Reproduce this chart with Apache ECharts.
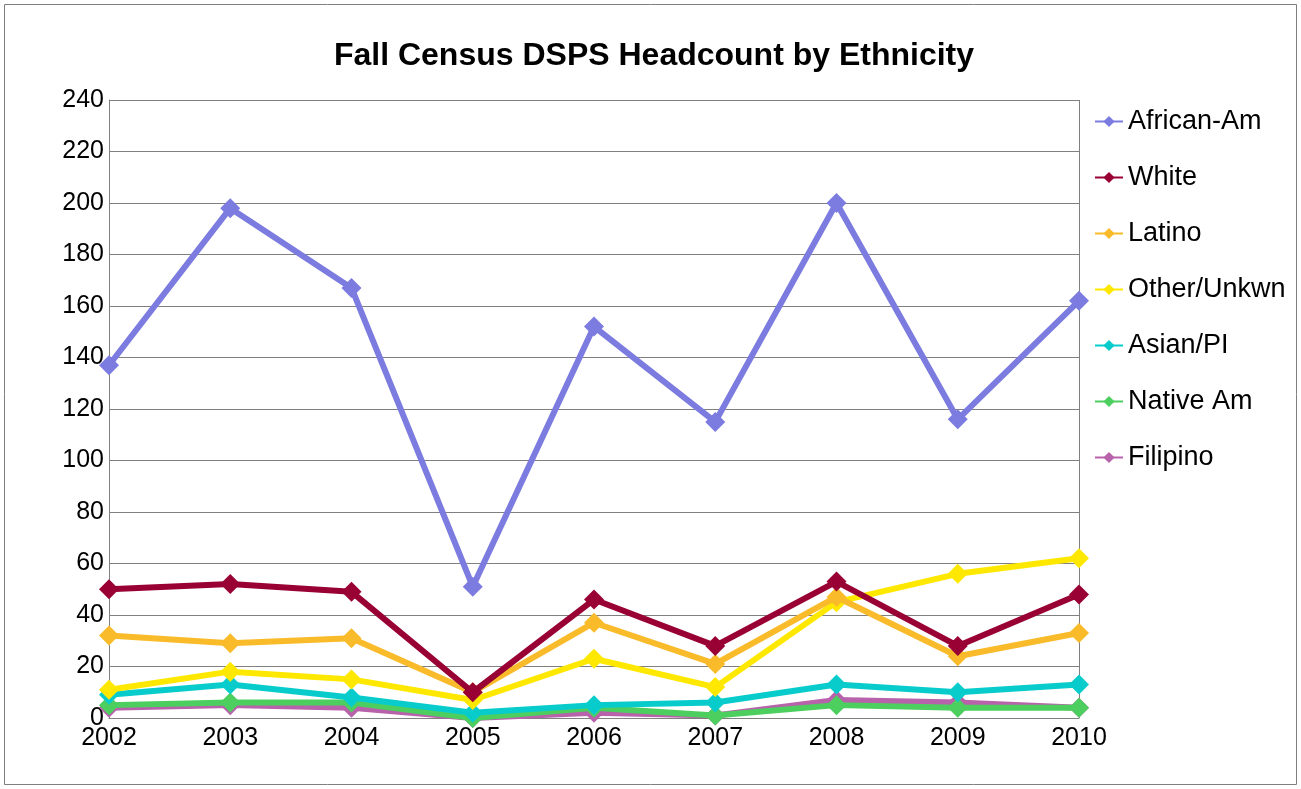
<!DOCTYPE html>
<html><head><meta charset="utf-8">
<script src="https://cdn.jsdelivr.net/npm/echarts@6/dist/echarts.min.js"></script>
<style>html,body{margin:0;padding:0;background:#fff}#c{width:1301px;height:789px}</style>
</head><body><div id="c"></div>
<script>
const years = ['2002','2003','2004','2005','2006','2007','2008','2009','2010'];
const africanAm = [137,198,167,51,152,115,200,116,162];
const white = [50,52,49,10,46,28,53,28,48];
const latino = [32,29,31,10,37,21,47,24,33];
const otherUnk = [11,18,15,7,23,12,45,56,62];
const asianPI = [9,13,8,2,5,6,13,10,13];
const nativeAm = [5,6,6,0,4,1,5,4,4];
const filipino = [4,5,4,0,2,1,7,6,4];
const names = ['African-Am','White','Latino','Other/Unkwn','Asian/PI','Native Am','Filipino'];
const colors = ['#7b7be0','#990033','#f9bb2a','#ffe800','#08cccc','#4ccf5f','#b862ab'];
const data = [africanAm, white, latino, otherUnk, asianPI, nativeAm, filipino];
const yTicks = {min:0, max:240, interval:20};
const FF = 'Liberation Sans';

const chart = echarts.init(document.getElementById('c'));
chart.setOption({
  animation:false,
  backgroundColor:'#fff',
  graphic:[{type:'rect',shape:{x:4.5,y:4.5,width:1292,height:780},style:{fill:'none',stroke:'#7f7f7f',lineWidth:1}}],
  title:{text:'Fall Census DSPS Headcount by Ethnicity',left:649,top:35,textAlign:'center',
    textStyle:{fontFamily:FF,fontSize:32,fontWeight:'bold',color:'#000'}},
  legend:{orient:'vertical',left:1089,top:103,itemGap:29,itemWidth:28,itemHeight:14,
    data:names,
    textStyle:{fontFamily:FF,fontSize:27,color:'#000',padding:[0,0,0,0]}},
  grid:{left:109,top:100,right:222,bottom:71,containLabel:false},
  xAxis:{type:'category',data:years,boundaryGap:false,
    axisLine:{lineStyle:{color:'#808080',width:1}},axisTick:{show:false},
    axisLabel:{fontFamily:FF,fontSize:25,color:'#000',margin:8},
    splitLine:{show:false}},
  yAxis:{type:'value',min:yTicks.min,max:yTicks.max,interval:yTicks.interval,
    axisLine:{show:true,lineStyle:{color:'#808080',width:1}},axisTick:{show:false},
    axisLabel:{fontFamily:FF,fontSize:25,color:'#000',margin:5},
    splitLine:{lineStyle:{color:'#808080',width:1}}},
  series: names.map((n,i)=>({
    name:n,type:'line',data:data[i],z:20-i,
    symbol:'diamond',symbolSize:20,
    lineStyle:{width:6,color:colors[i]},
    itemStyle:{color:colors[i]}
  })).concat([{type:'line',data:[],markLine:{silent:true,symbol:'none',label:{show:false},
    lineStyle:{color:'#808080',width:1,type:'solid'},data:[{xAxis:'2010'}]}}])
});
</script></body></html>
